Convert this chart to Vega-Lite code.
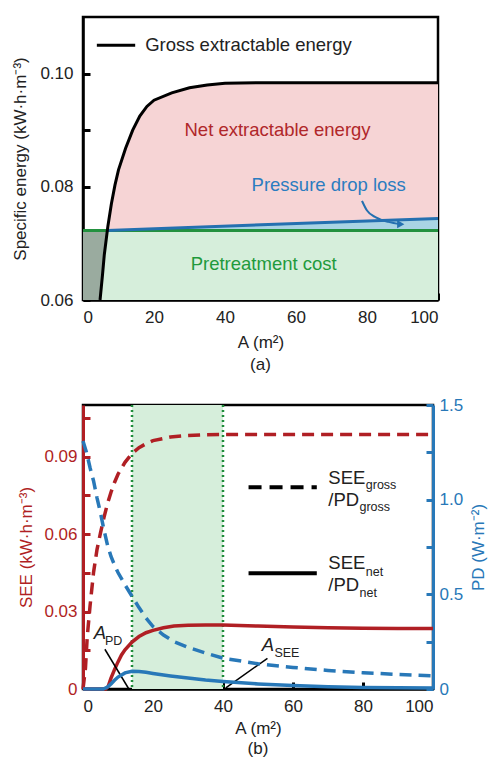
{
  "$schema": "https://vega.github.io/schema/vega-lite/v6.json",
  "padding": {"left": 10, "top": 15, "right": 5, "bottom": 5},
  "config": {
    "font": "Liberation Sans",
    "view": {"stroke": "black", "strokeWidth": 2.5},
    "axis": {"grid": false, "zindex": 2, "labelFontSize": 17, "titleFontSize": 17, "titleFontWeight": "normal", "labelColor": "#222", "titleColor": "#222", "domainColor": "black", "domainWidth": 2.5, "tickColor": "black", "tickWidth": 3, "tickSize": -7, "labelPadding": 16},
    "title": {"fontSize": 17, "fontWeight": "normal", "color": "#222"}
  },
  "datasets": {
    "gross_a": [
      {"A": 4.8, "v": 0.06}, {"A": 5.5, "v": 0.0645}, {"A": 6, "v": 0.068}, {"A": 6.86, "v": 0.0723},
      {"A": 7, "v": 0.073}, {"A": 8, "v": 0.077}, {"A": 9, "v": 0.0803}, {"A": 10, "v": 0.083},
      {"A": 12, "v": 0.0868}, {"A": 14, "v": 0.09}, {"A": 16, "v": 0.0925}, {"A": 18, "v": 0.0942},
      {"A": 20, "v": 0.0953}, {"A": 25, "v": 0.0966}, {"A": 30, "v": 0.0975}, {"A": 35, "v": 0.098},
      {"A": 40, "v": 0.0983}, {"A": 50, "v": 0.0984}, {"A": 100, "v": 0.0984}
    ],
    "net_a": [
      {"A": 6.86, "v": 0.0723, "v2": 0.0723}, {"A": 7, "v": 0.073, "v2": 0.0723}, {"A": 8, "v": 0.077, "v2": 0.07232},
      {"A": 9, "v": 0.0803, "v2": 0.07235}, {"A": 10, "v": 0.083, "v2": 0.07237}, {"A": 12, "v": 0.0868, "v2": 0.07241},
      {"A": 14, "v": 0.09, "v2": 0.07246}, {"A": 16, "v": 0.0925, "v2": 0.0725}, {"A": 18, "v": 0.0942, "v2": 0.07255},
      {"A": 20, "v": 0.0953, "v2": 0.07259}, {"A": 25, "v": 0.0966, "v2": 0.07271}, {"A": 30, "v": 0.0975, "v2": 0.07282},
      {"A": 35, "v": 0.098, "v2": 0.07293}, {"A": 40, "v": 0.0983, "v2": 0.07305}, {"A": 50, "v": 0.0984, "v2": 0.07327},
      {"A": 60, "v": 0.0984, "v2": 0.0735}, {"A": 70, "v": 0.0984, "v2": 0.07372}, {"A": 80, "v": 0.0984, "v2": 0.07395},
      {"A": 90, "v": 0.0984, "v2": 0.07418}, {"A": 100, "v": 0.0984, "v2": 0.0744}
    ],
    "pdl_a": [{"A": 6.86, "v": 0.0723, "v2": 0.0723}, {"A": 100, "v": 0.0744, "v2": 0.0723}],
    "pre_a": [{"A": 0, "v": 0.0723, "v2": 0.06}, {"A": 100, "v": 0.0723, "v2": 0.06}],
    "gray_a": [{"A": 0, "v": 0.0723, "v2": 0.06}, {"A": 4.8, "v": 0.0723, "v2": 0.06}, {"A": 5.5, "v": 0.0723, "v2": 0.0645}, {"A": 6, "v": 0.0723, "v2": 0.068}, {"A": 6.86, "v": 0.0723, "v2": 0.0723}],
    "arrow_a": [{"A": 78.6, "v": 0.0775}, {"A": 80, "v": 0.0758}, {"A": 82.5, "v": 0.0746}, {"A": 86, "v": 0.0738}, {"A": 89.5, "v": 0.0734}],
    "see_gross": [
      {"A": 0, "v": 0}, {"A": 0.7, "v": 0.008}, {"A": 1.2, "v": 0.02}, {"A": 2, "v": 0.032}, {"A": 3, "v": 0.045},
      {"A": 4, "v": 0.054}, {"A": 5, "v": 0.0605}, {"A": 6, "v": 0.0665}, {"A": 7, "v": 0.0718}, {"A": 8, "v": 0.0762},
      {"A": 9, "v": 0.08}, {"A": 10, "v": 0.0832}, {"A": 12, "v": 0.0878}, {"A": 14, "v": 0.0912}, {"A": 16, "v": 0.0935},
      {"A": 18, "v": 0.095}, {"A": 20, "v": 0.0962}, {"A": 25, "v": 0.0976}, {"A": 30, "v": 0.0982}, {"A": 35, "v": 0.0985},
      {"A": 40, "v": 0.0986}, {"A": 100, "v": 0.0986}
    ],
    "see_net": [
      {"A": 0, "v": 0}, {"A": 6.5, "v": 0}, {"A": 7.2, "v": 0.001}, {"A": 8, "v": 0.0042}, {"A": 9, "v": 0.0075},
      {"A": 10, "v": 0.0105}, {"A": 11, "v": 0.0132}, {"A": 12, "v": 0.0152}, {"A": 14, "v": 0.0182}, {"A": 16, "v": 0.0203},
      {"A": 18, "v": 0.0218}, {"A": 20, "v": 0.0227}, {"A": 23, "v": 0.0237}, {"A": 26, "v": 0.0244}, {"A": 30, "v": 0.0247},
      {"A": 35, "v": 0.0248}, {"A": 40, "v": 0.0248}, {"A": 50, "v": 0.0244}, {"A": 60, "v": 0.024}, {"A": 70, "v": 0.0237},
      {"A": 80, "v": 0.0235}, {"A": 90, "v": 0.0234}, {"A": 100, "v": 0.0234}
    ],
    "pd_gross": [
      {"A": 0, "v": 1.31}, {"A": 1, "v": 1.25}, {"A": 2, "v": 1.17}, {"A": 3, "v": 1.1}, {"A": 4, "v": 1.01},
      {"A": 5, "v": 0.93}, {"A": 6, "v": 0.84}, {"A": 7, "v": 0.76}, {"A": 8, "v": 0.7}, {"A": 9, "v": 0.655},
      {"A": 10, "v": 0.615}, {"A": 12, "v": 0.55}, {"A": 14, "v": 0.49}, {"A": 16, "v": 0.43}, {"A": 18, "v": 0.375},
      {"A": 20, "v": 0.33}, {"A": 23, "v": 0.285}, {"A": 26, "v": 0.25}, {"A": 30, "v": 0.22}, {"A": 35, "v": 0.19},
      {"A": 40, "v": 0.163}, {"A": 50, "v": 0.133}, {"A": 60, "v": 0.114}, {"A": 70, "v": 0.098}, {"A": 80, "v": 0.086},
      {"A": 90, "v": 0.077}, {"A": 100, "v": 0.07}
    ],
    "pd_net": [
      {"A": 0, "v": 0}, {"A": 5.8, "v": 0}, {"A": 7, "v": 0.01}, {"A": 8, "v": 0.027}, {"A": 9, "v": 0.046},
      {"A": 10, "v": 0.063}, {"A": 12, "v": 0.085}, {"A": 14, "v": 0.094}, {"A": 16, "v": 0.093}, {"A": 18, "v": 0.088},
      {"A": 20, "v": 0.082}, {"A": 25, "v": 0.069}, {"A": 30, "v": 0.058}, {"A": 35, "v": 0.047}, {"A": 40, "v": 0.039},
      {"A": 50, "v": 0.027}, {"A": 60, "v": 0.018}, {"A": 70, "v": 0.012}, {"A": 80, "v": 0.008}, {"A": 90, "v": 0.006},
      {"A": 100, "v": 0.005}
    ]
  },
  "vconcat": [
    {
      "width": 355,
      "height": 283,
      "title": {"text": "(a)", "orient": "bottom", "offset": 7},
      "layer": [
        {
          "data": {"name": "pre_a"},
          "mark": {"type": "area", "color": "#d6eedb", "opacity": 1},
          "encoding": {
            "x": {"field": "A", "type": "quantitative", "scale": {"domain": [0, 100], "nice": false},
                  "axis": {"title": "A (m²)", "values": [0, 10, 20, 30, 40, 50, 60, 70, 80, 90, 100], "labelExpr": "datum.value % 20 === 0 ? datum.label : ''", "titlePadding": 9}},
            "y": {"field": "v", "type": "quantitative", "scale": {"domain": [0.06, 0.11], "nice": false, "zero": false},
                  "axis": {"title": "Specific energy (kW·h·m⁻³)", "values": [0.06, 0.07, 0.08, 0.09, 0.1], "labelExpr": "indexof(['0.06','0.08','0.10'], format(datum.value, '.2f')) >= 0 ? format(datum.value, '.2f') : ''", "labelPadding": 17, "titlePadding": 10}},
            "y2": {"field": "v2"}
          }
        },
        {
          "data": {"name": "gray_a"},
          "mark": {"type": "area", "color": "#9aab9f"},
          "encoding": {"x": {"field": "A", "type": "quantitative"}, "y": {"field": "v", "type": "quantitative"}, "y2": {"field": "v2"}}
        },
        {
          "data": {"name": "net_a"},
          "mark": {"type": "area", "color": "#f6d4d5"},
          "encoding": {"x": {"field": "A", "type": "quantitative"}, "y": {"field": "v", "type": "quantitative"}, "y2": {"field": "v2"}}
        },
        {
          "data": {"name": "pdl_a"},
          "mark": {"type": "area", "color": "#a9d4e4"},
          "encoding": {"x": {"field": "A", "type": "quantitative"}, "y": {"field": "v", "type": "quantitative"}, "y2": {"field": "v2"}}
        },
        {
          "data": {"name": "pre_a"},
          "mark": {"type": "line", "color": "#23913f", "strokeWidth": 3},
          "encoding": {"x": {"field": "A", "type": "quantitative"}, "y": {"field": "v", "type": "quantitative"}}
        },
        {
          "data": {"name": "pdl_a"},
          "mark": {"type": "line", "color": "#2470b0", "strokeWidth": 3},
          "encoding": {"x": {"field": "A", "type": "quantitative"}, "y": {"field": "v", "type": "quantitative"}}
        },
        {
          "data": {"name": "gross_a"},
          "mark": {"type": "line", "color": "black", "strokeWidth": 3},
          "encoding": {"x": {"field": "A", "type": "quantitative"}, "y": {"field": "v", "type": "quantitative"}}
        },
        {
          "data": {"name": "arrow_a"},
          "mark": {"type": "line", "color": "#2470b0", "strokeWidth": 2, "interpolate": "monotone"},
          "encoding": {"x": {"field": "A", "type": "quantitative"}, "y": {"field": "v", "type": "quantitative"}}
        },
        {
          "data": {"values": [{"A": 89.5, "v": 0.0734}]},
          "mark": {"type": "point", "shape": "triangle-right", "filled": true, "color": "#2470b0", "size": 70, "opacity": 1},
          "encoding": {"x": {"field": "A", "type": "quantitative"}, "y": {"field": "v", "type": "quantitative"}}
        },
        {
          "data": {"values": [{"A": 3.9, "A2": 14.7, "v": 0.105}]},
          "mark": {"type": "rule", "color": "black", "strokeWidth": 3},
          "encoding": {"x": {"field": "A", "type": "quantitative"}, "x2": {"field": "A2"}, "y": {"field": "v", "type": "quantitative"}}
        },
        {
          "data": {"values": [{"A": 17.5, "v": 0.105, "label": "Gross extractable energy"}]},
          "mark": {"type": "text", "align": "left", "baseline": "middle", "fontSize": 18.5, "color": "#222"},
          "encoding": {"x": {"field": "A", "type": "quantitative"}, "y": {"field": "v", "type": "quantitative"}, "text": {"field": "label"}}
        },
        {
          "data": {"values": [{"A": 54.8, "v": 0.0901, "label": "Net extractable energy"}]},
          "mark": {"type": "text", "align": "center", "baseline": "middle", "fontSize": 18.5, "color": "#b0272a"},
          "encoding": {"x": {"field": "A", "type": "quantitative"}, "y": {"field": "v", "type": "quantitative"}, "text": {"field": "label"}}
        },
        {
          "data": {"values": [{"A": 69.2, "v": 0.0804, "label": "Pressure drop loss"}]},
          "mark": {"type": "text", "align": "center", "baseline": "middle", "fontSize": 18.5, "color": "#2b7cc0"},
          "encoding": {"x": {"field": "A", "type": "quantitative"}, "y": {"field": "v", "type": "quantitative"}, "text": {"field": "label"}}
        },
        {
          "data": {"values": [{"A": 50.9, "v": 0.0664, "label": "Pretreatment cost"}]},
          "mark": {"type": "text", "align": "center", "baseline": "middle", "fontSize": 18.5, "color": "#1f9a3c"},
          "encoding": {"x": {"field": "A", "type": "quantitative"}, "y": {"field": "v", "type": "quantitative"}, "text": {"field": "label"}}
        }
      ]
    },
    {
      "width": 350,
      "height": 284,
      "title": {"text": "(b)", "orient": "bottom", "offset": 5},
      "resolve": {"scale": {"y": "independent"}},
      "layer": [
        {
          "layer": [
            {
              "data": {"values": [{"A": 14, "A2": 40}]},
              "mark": {"type": "rect", "color": "#d6eedb"},
              "encoding": {
                "x": {"field": "A", "type": "quantitative", "scale": {"domain": [0, 100], "nice": false},
                      "axis": {"title": "A (m²)", "values": [0, 10, 20, 30, 40, 50, 60, 70, 80, 90, 100], "labelExpr": "datum.value % 20 === 0 ? datum.label : ''", "titlePadding": 6}},
                "x2": {"field": "A2"}
              }
            },
            {
              "data": {"values": [{"A": 14}, {"A": 40}]},
              "mark": {"type": "rule", "color": "#1f8c3b", "strokeWidth": 2.5, "strokeDash": [2, 3]},
              "encoding": {"x": {"field": "A", "type": "quantitative"}}
            },
            {
              "data": {"name": "see_gross"},
              "mark": {"type": "line", "color": "#b01f24", "strokeWidth": 3.5, "strokeDash": [12, 7]},
              "encoding": {
                "x": {"field": "A", "type": "quantitative"},
                "y": {"field": "v", "type": "quantitative", "scale": {"domain": [0, 0.11], "nice": false},
                      "axis": {"orient": "left", "title": "SEE (kW·h·m⁻³)", "titleColor": "#b01f24", "labelColor": "#b01f24", "domainColor": "#b01f24", "domainWidth": 3, "tickColor": "#b01f24",
                               "values": [0, 0.015, 0.03, 0.045, 0.06, 0.075, 0.09, 0.105],
                               "labelExpr": "datum.value === 0 ? '0' : (indexof(['0.030','0.060','0.090'], format(datum.value, '.3f')) >= 0 ? format(datum.value, '.2f') : '')", "labelPadding": 13, "titlePadding": 8}}
              }
            },
            {
              "data": {"name": "see_net"},
              "mark": {"type": "line", "color": "#b01f24", "strokeWidth": 3.5},
              "encoding": {"x": {"field": "A", "type": "quantitative"}, "y": {"field": "v", "type": "quantitative"}}
            },
            {
              "data": {"values": [{"A": 6.25, "v": 0.0154, "A2": 13.1, "v2": 0}, {"A": 52.7, "v": 0.0119, "A2": 40.8, "v2": 0.0004}]},
              "mark": {"type": "rule", "color": "black", "strokeWidth": 1.5},
              "encoding": {"x": {"field": "A", "type": "quantitative"}, "y": {"field": "v", "type": "quantitative"}, "x2": {"field": "A2"}, "y2": {"field": "v2"}}
            },
            {
              "data": {"values": [{"A": 47.3, "A2": 66.8, "v": 0.0781}]},
              "mark": {"type": "rule", "color": "black", "strokeWidth": 4, "strokeDash": [13, 8]},
              "encoding": {"x": {"field": "A", "type": "quantitative"}, "x2": {"field": "A2"}, "y": {"field": "v", "type": "quantitative"}}
            },
            {
              "data": {"values": [{"A": 47.3, "A2": 66.8, "v": 0.0448}]},
              "mark": {"type": "rule", "color": "black", "strokeWidth": 4},
              "encoding": {"x": {"field": "A", "type": "quantitative"}, "x2": {"field": "A2"}, "y": {"field": "v", "type": "quantitative"}}
            },
            {
              "data": {"values": [{"A": 70.1, "v": 0.0818, "label": "SEE"}, {"A": 70.1, "v": 0.0733, "label": "/PD"}, {"A": 70.1, "v": 0.0488, "label": "SEE"}, {"A": 70.1, "v": 0.0404, "label": "/PD"}]},
              "mark": {"type": "text", "align": "left", "baseline": "middle", "fontSize": 18.5, "color": "#222"},
              "encoding": {"x": {"field": "A", "type": "quantitative"}, "y": {"field": "v", "type": "quantitative"}, "text": {"field": "label"}}
            },
            {
              "data": {"values": [{"A": 80.8, "v": 0.079, "label": "gross"}, {"A": 79, "v": 0.0704, "label": "gross"}, {"A": 80.8, "v": 0.0455, "label": "net"}, {"A": 79, "v": 0.0371, "label": "net"}, {"A": 6.25, "v": 0.0184, "label": "PD"}, {"A": 54.7, "v": 0.0141, "label": "SEE"}]},
              "mark": {"type": "text", "align": "left", "baseline": "middle", "fontSize": 12.5, "color": "#222"},
              "encoding": {"x": {"field": "A", "type": "quantitative"}, "y": {"field": "v", "type": "quantitative"}, "text": {"field": "label"}}
            },
            {
              "data": {"values": [{"A": 4.8, "v": 0.0216, "label": "A"}, {"A": 52.8, "v": 0.0171, "label": "A"}]},
              "mark": {"type": "text", "align": "center", "baseline": "middle", "fontSize": 18.5, "fontStyle": "italic", "color": "#222"},
              "encoding": {"x": {"field": "A", "type": "quantitative"}, "y": {"field": "v", "type": "quantitative"}, "text": {"field": "label"}}
            }
          ]
        },
        {
          "layer": [
            {
              "data": {"name": "pd_gross"},
              "mark": {"type": "line", "color": "#2878b8", "strokeWidth": 3.5, "strokeDash": [12, 7]},
              "encoding": {
                "x": {"field": "A", "type": "quantitative"},
                "y": {"field": "v", "type": "quantitative", "scale": {"domain": [0, 1.5], "nice": false},
                      "axis": {"orient": "right", "title": "PD (W·m⁻²)", "titleColor": "#2878b8", "labelColor": "#2878b8", "domainColor": "#2878b8", "domainWidth": 3, "tickColor": "#2878b8",
                               "values": [0, 0.25, 0.5, 0.75, 1, 1.25, 1.5],
                               "labelExpr": "datum.value === 0 ? '0' : (datum.value === 0.5 || datum.value === 1 || datum.value === 1.5 ? format(datum.value, '.1f') : '')",
                               "labelPadding": 13, "titleAngle": 270, "titleBaseline": "top", "titlePadding": 8}}
              }
            },
            {
              "data": {"name": "pd_net"},
              "mark": {"type": "line", "color": "#2878b8", "strokeWidth": 3.5},
              "encoding": {"x": {"field": "A", "type": "quantitative"}, "y": {"field": "v", "type": "quantitative"}}
            }
          ]
        }
      ]
    }
  ],
  "spacing": 19
}
